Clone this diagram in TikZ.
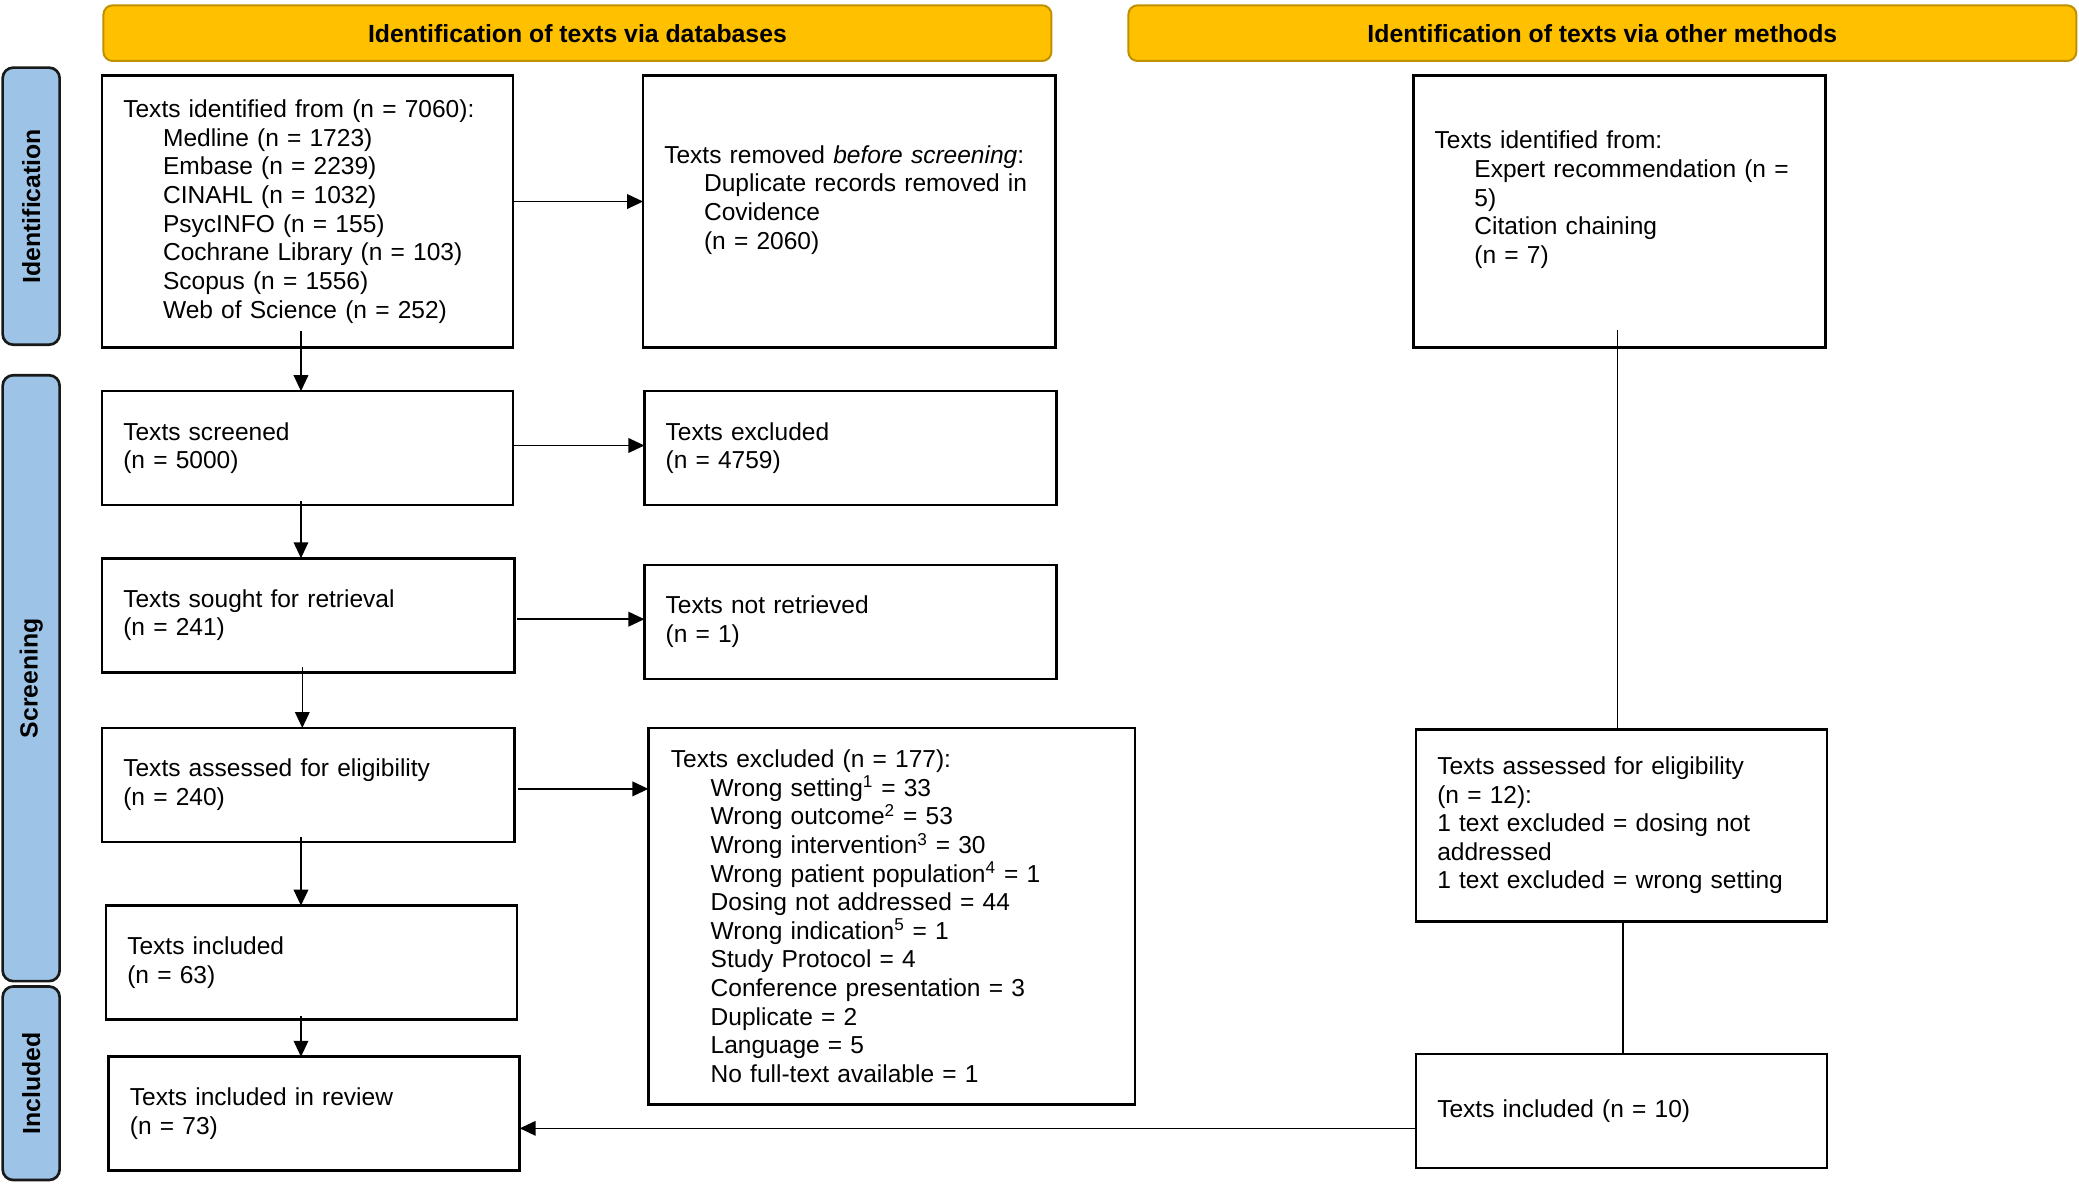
\documentclass[tikz,border=0pt]{standalone}
\usepackage{fontspec}
\setmainfont{Liberation Sans}
\usetikzlibrary{arrows.meta}
\definecolor{hdr}{HTML}{FFC000}
\definecolor{hdrb}{HTML}{BF9000}
\definecolor{side}{HTML}{9DC3E6}
\newcommand\tline[1]{\mbox{#1}}
\newcommand\iline[1]{\mbox{\hspace*{30pt}#1}}
\begin{document}
\begin{tikzpicture}[x=1pt,y=-1pt,
  every node/.style={font=\fontsize{18.5}{21.6}\selectfont},
  bx/.style={draw, line width=2pt, anchor=north west, inner sep=0pt, outer sep=0pt, align=left},
  hd/.style={draw=hdrb, fill=hdr, line width=1.5pt, rounded corners=7pt, inner sep=0pt,
     minimum width=715pt, minimum height=42pt, font=\fontsize{18.7}{21.6}\selectfont\bfseries},
  sd/.style={draw=black!90, fill=side, line width=2pt, rounded corners=8pt, inner sep=0pt,
     minimum height=43pt, rotate=90, font=\fontsize{18.7}{21.6}\selectfont\bfseries},
  arr/.style={line width=1.2pt, -{Triangle[length=12pt,width=11pt]}},
  ln/.style={line width=1.2pt}
]
\useasboundingbox (0,0) rectangle (1568,893);

% headers
\node[hd] (H1) at (435.5,25) {Identification of texts via databases};
\node[hd] (H2) at (1208.5,25) {Identification of texts via other methods};

% side bars
\node[sd, minimum width=209pt] (S1) at (23.5,155.5) {Identification};
\node[sd, minimum width=457pt] (S2) at (23.5,511.5) {Screening};
\node[sd, minimum width=146pt] (S3) at (23.5,817) {Included};

% boxes
\node[bx, minimum width=310pt, minimum height=205pt, text width=278pt] (A) at (77,57) {%
\tline{Texts identified from (n = 7060):}\\
\iline{Medline (n = 1723)}\\
\iline{Embase (n = 2239)}\\
\iline{CINAHL (n = 1032)}\\
\iline{PsycINFO (n = 155)}\\
\iline{Cochrane Library (n = 103)}\\
\iline{Scopus (n = 1556)}\\
\iline{Web of Science (n = 252)}};

\node[bx, minimum width=311pt, minimum height=205pt, text width=279pt] (B) at (485,57) {%
\tline{Texts removed \textit{before screening}:}\\
\iline{Duplicate records removed in}\\
\iline{Covidence}\\
\iline{(n = 2060)}\\
\mbox{}};

\node[bx, minimum width=311pt, minimum height=205pt, text width=279pt] (C) at (1066,57) {%
\tline{Texts identified from:}\\
\iline{Expert recommendation (n =}\\
\iline{5)}\\
\iline{Citation chaining}\\
\iline{(n = 7)}\\
\mbox{}};

\node[bx, minimum width=310pt, minimum height=86pt, text width=278pt] (D) at (77,295) {%
\tline{Texts screened}\\ \tline{(n = 5000)}};

\node[bx, minimum width=311pt, minimum height=86pt, text width=279pt] (E) at (486,295) {%
\tline{Texts excluded}\\ \tline{(n = 4759)}};

\node[bx, minimum width=311pt, minimum height=86pt, text width=279pt] (F) at (77,421) {%
\tline{Texts sought for retrieval}\\ \tline{(n = 241)}};

\node[bx, minimum width=311pt, minimum height=86pt, text width=279pt] (G) at (486,426) {%
\tline{Texts not retrieved}\\ \tline{(n = 1)}};

\node[bx, minimum width=311pt, minimum height=86pt, text width=279pt] (H) at (77,549) {%
\tline{Texts assessed for eligibility}\\ \tline{(n = 240)}};

\node[bx, minimum width=367pt, minimum height=284pt, text width=333pt] (I) at (489,549) {%
\tline{Texts excluded (n = 177):}\\
\iline{Wrong setting\textsuperscript{1} = 33}\\
\iline{Wrong outcome\textsuperscript{2} = 53}\\
\iline{Wrong intervention\textsuperscript{3} = 30}\\
\iline{Wrong patient population\textsuperscript{4} = 1}\\
\iline{Dosing not addressed = 44}\\
\iline{Wrong indication\textsuperscript{5} = 1}\\
\iline{Study Protocol = 4}\\
\iline{Conference presentation = 3}\\
\iline{Duplicate = 2}\\
\iline{Language = 5}\\
\iline{No full-text available = 1}};

\node[bx, minimum width=310pt, minimum height=86pt, text width=278pt] (J) at (80,683) {%
\tline{Texts included}\\ \tline{(n = 63)}};

\node[bx, minimum width=310pt, minimum height=86pt, text width=278pt] (K) at (82,797) {%
\tline{Texts included in review}\\ \tline{(n = 73)}};

\node[bx, minimum width=310pt, minimum height=145pt, text width=278pt] (L) at (1068,550) {%
\tline{Texts assessed for eligibility}\\
\tline{(n = 12):}\\
\tline{1 text excluded = dosing not}\\
\tline{addressed}\\
\tline{1 text excluded = wrong setting}};

\node[bx, minimum width=310pt, minimum height=86pt, text width=278pt] (M) at (1068,795) {%
\tline{Texts included (n = 10)}};

% connectors
\draw[arr] ([yshift=7.5pt]A.east) -- ([yshift=7.5pt]B.west);
\draw[arr] ([yshift=2pt]D.east) -- ([yshift=2pt]D.east -| E.west);
\draw[arr] ([yshift=-3pt,xshift=2pt]F.east) -- ([yshift=-3pt]F.east -| G.west);
\draw[arr] ([yshift=-3pt,xshift=3pt]H.east) -- ([yshift=-3pt]H.east -| I.west);
\draw[arr] ([yshift=-13pt]M.west) -- ([yshift=-13pt]M.west -| K.east);

\draw[arr] ([xshift=-5pt,yshift=12pt]A.south) -- ([xshift=-5pt]A.south |- D.north);
\draw[arr] ([xshift=-5pt,yshift=3pt]D.south) -- ([xshift=-5pt]D.south |- F.north);
\draw[arr] ([xshift=-4.5pt,yshift=4pt]F.south) -- ([xshift=-4.5pt]F.south |- H.north);
\draw[arr] ([xshift=-5.5pt,yshift=4pt]H.south) -- ([xshift=-5.5pt]H.south |- J.north);
\draw[arr] ([xshift=-8pt,yshift=3pt]J.south) -- ([xshift=-8pt]J.south |- K.north);

\draw[ln] ([xshift=-1.5pt,yshift=13pt]C.south) -- ([xshift=-1.5pt]C.south |- L.north);
\draw[ln] ([xshift=1pt]L.south) -- ([xshift=1pt]L.south |- M.north);
\end{tikzpicture}
\end{document}
